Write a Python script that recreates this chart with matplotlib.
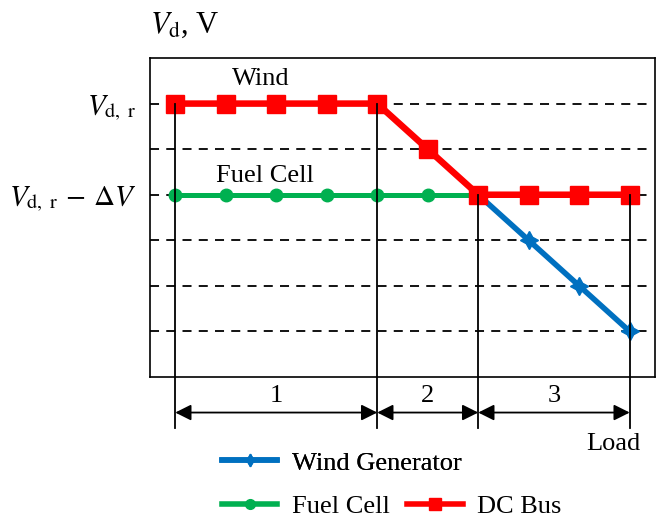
import matplotlib
matplotlib.use("Agg")
import matplotlib.pyplot as plt
from matplotlib.lines import Line2D

plt.rcParams['font.family'] = ['Liberation Serif', 'DejaVu Serif']
plt.rcParams['mathtext.fontset'] = 'stix'

# ---- data ----
dc_x = [0, 1, 2, 3, 4, 5, 6, 7, 8, 9]
dc_bus = [6, 6, 6, 6, 6, 5, 4, 4, 4, 4]
fuel_x = [0, 1, 2, 3, 4, 5, 6]
fuel_cell = [4, 4, 4, 4, 4, 4, 4]
wind_x = [6, 7, 8, 9]
wind_gen = [4, 3, 2, 1]
grid_levels = [1, 2, 3, 4, 5, 6]
boundaries = [0, 4, 6, 9]
boundary_tops = [6, 6, 4, 4]
section_labels = ['1', '2', '3']
ytick_vals = [6, 4]
ytick_labels = [r'$V_{\mathrm{d,\ r}}$', r'$V_{\mathrm{d,\ r}}\,-\,\Delta V$']

RED = '#FF0000'
GREEN = '#00B050'
BLUE = '#0070C0'
FS = 19

fig = plt.figure(figsize=(6.59, 5.19), dpi=100)
ax = fig.add_axes([0.2276, 0.2736, 0.7663, 0.6146])
ax.set_xlim(-0.5, 9.5)
ax.set_ylim(0, 7)

ax.hlines(grid_levels, -0.5, 9.4, colors='black', linewidth=1.3,
          linestyles=(0, (5, 4)), zorder=1)

ax.plot(fuel_x, fuel_cell, color=GREEN, linewidth=3.6, marker='o',
        markersize=9, zorder=3)
ax.plot(wind_x, wind_gen, color=BLUE, linewidth=4, marker=(4, 1, 0),
        markersize=13, zorder=3)
ax.plot(dc_x, dc_bus, color=RED, linewidth=4.7, marker='s',
        markersize=13.5, zorder=4)

bottom_y = -1.12
for bx, top in zip(boundaries, boundary_tops):
    ax.plot([bx, bx], [top, bottom_y], color='black', linewidth=1.3,
            clip_on=False, zorder=5)

arrow_y = -0.78
for i, lab in enumerate(section_labels):
    a, b = boundaries[i], boundaries[i + 1]
    ax.annotate('', xy=(b, arrow_y), xytext=(a, arrow_y),
                arrowprops=dict(arrowstyle='<|-|>', color='black', lw=1.3,
                                mutation_scale=24, shrinkA=0, shrinkB=0),
                annotation_clip=False)
    ax.text((a + b) / 2, -0.42, lab, fontsize=FS, ha='center', va='center',
            clip_on=False)

ax.text(8.67, -1.46, 'Load', fontsize=FS, ha='center', va='center', clip_on=False)
ax.text(1.7, 6.55, 'Wind', fontsize=FS, ha='center', va='center')
ax.text(1.78, 4.42, 'Fuel Cell', fontsize=FS, ha='center', va='center')

ax.set_xticks([])
ax.set_yticks(ytick_vals)
ax.set_yticklabels(ytick_labels, fontsize=21)
ax.tick_params(axis='y', length=0, pad=9.5)
for s in ax.spines.values():
    s.set_linewidth(1.2)
    s.set_color('black')

fig.text(0.228, 0.952, r'$V_{\mathrm{d}}$, V', fontsize=22, ha='left', va='center')

h_wind = Line2D([], [], color=BLUE, linewidth=4, marker=(4, 1, 0), markersize=9)
h_fuel = Line2D([], [], color=GREEN, linewidth=4, marker='o', markersize=7)
h_dc = Line2D([], [], color=RED, linewidth=4, marker='s', markersize=9)

leg1 = fig.legend([h_wind], ['Wind Generator'], loc='center left',
                  bbox_to_anchor=(0.337, 0.108), frameon=False, fontsize=FS,
                  handlelength=2.1, handletextpad=0.55, borderpad=0,
                  borderaxespad=0, numpoints=1)
fig.add_artist(leg1)
leg2 = fig.legend([h_fuel, h_dc], ['Fuel Cell', 'DC Bus'], loc='center left',
                  bbox_to_anchor=(0.337, 0.024), frameon=False, fontsize=FS,
                  ncol=2, handlelength=2.1, handletextpad=0.55,
                  columnspacing=0.66, borderpad=0, borderaxespad=0, numpoints=1)

fig.savefig('out.png', dpi=100)
